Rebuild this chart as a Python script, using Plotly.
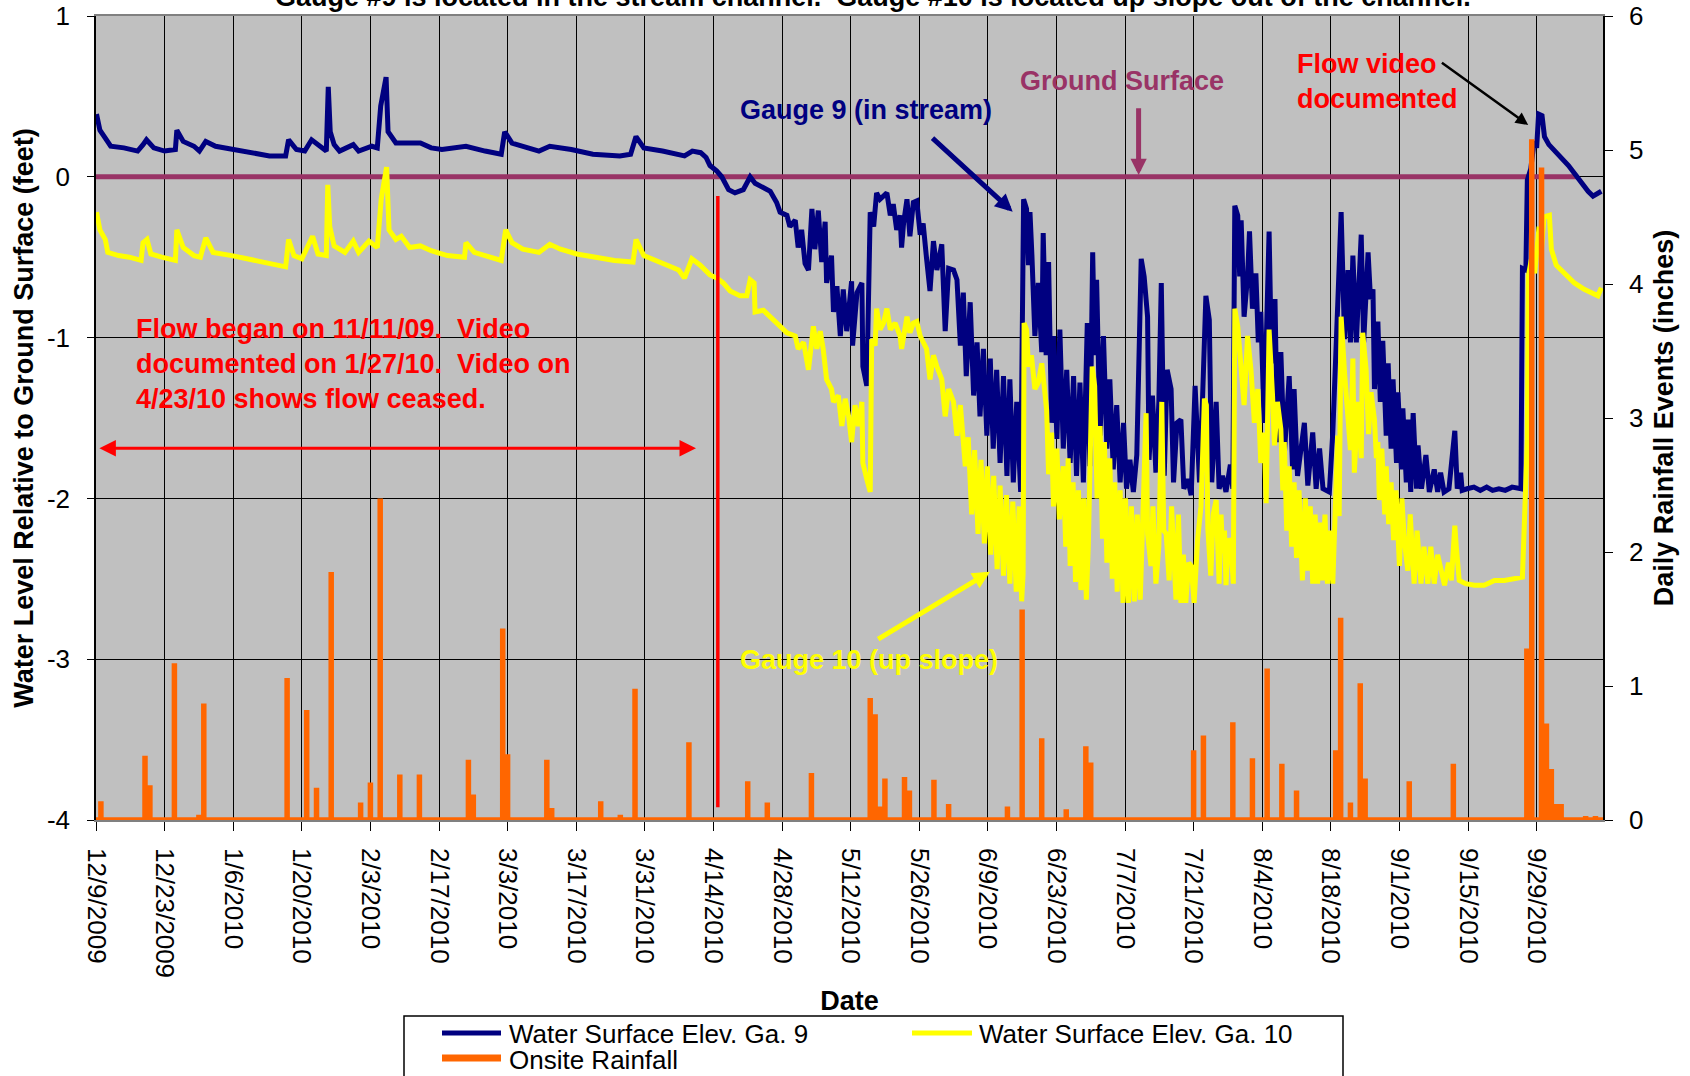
import pandas as pd
import plotly.graph_objects as go

# ---------------------------------------------------------------- data
START = pd.Timestamp("2009-12-09")
X_END = "2010-10-12 13:00"

# Gauge 9 (in stream): elapsed days since START, water level relative to ground (ft)
GA9_DAY = [
    0.1, 0.8, 1.9, 3.0, 5.7, 7.0, 8.5, 9.6, 10.3, 11.8,
    14.0, 16.2, 16.5, 17.8, 20.0, 21.1, 22.4, 24.4, 27.7, 32.1,
    35.4, 38.7, 39.3, 40.9, 42.6, 44.0, 45.9, 47.0, 47.4, 47.8,
    48.6, 49.7, 52.5, 53.6, 56.3, 57.4, 58.1, 59.2, 59.6, 61.2,
    66.2, 68.4, 70.6, 75.5, 79.4, 82.7, 83.4, 84.9, 90.4, 92.6,
    97.0, 101.4, 106.9, 109.1, 110.2, 111.8, 115.6, 120.1, 121.7, 123.4,
    124.5, 125.3, 126.7, 127.7, 129.1, 130.4, 132.1, 133.5, 134.5, 136.2,
    137.6, 138.9, 139.6, 141.0, 141.6, 142.7, 143.3, 144.0, 144.7, 145.4,
    146.1, 146.7, 147.4, 148.1, 148.8, 149.1, 150.1, 150.5, 151.2, 151.9,
    152.5, 153.2, 154.2, 154.4, 155.3, 156.3, 156.5, 157.3, 158.0, 158.7,
    159.3, 160.0, 161.4, 162.1, 162.7, 163.4, 164.1, 164.4, 164.8, 165.5,
    166.1, 166.8, 167.5, 168.2, 168.8, 169.5, 170.2, 170.9, 171.6, 172.6,
    173.3, 174.0, 175.0, 175.7, 176.4, 177.0, 177.6, 178.4, 179.1, 179.8,
    180.4, 181.1, 181.8, 182.5, 183.1, 183.8, 184.5, 185.2, 185.9, 186.5,
    187.2, 187.9, 188.7, 189.3, 189.9, 190.3, 190.6, 191.0, 191.6, 192.3,
    193.0, 193.3, 193.9, 194.4, 195.0, 195.4, 196.1, 196.7, 197.4, 198.1,
    198.8, 199.5, 200.1, 200.8, 201.5, 202.3, 202.8, 203.4, 203.8, 204.2,
    204.9, 205.6, 206.3, 206.9, 207.6, 208.3, 209.0, 209.7, 210.3, 211.0,
    211.7, 212.4, 212.7, 213.3, 213.9, 214.6, 214.9, 215.6, 216.3, 216.9,
    217.4, 218.0, 218.6, 219.4, 219.9, 220.6, 221.4, 222.0, 222.8, 223.5,
    224.3, 225.2, 225.8, 226.5, 227.2, 227.7, 228.6, 229.2, 229.9, 230.6,
    231.5, 232.0, 232.4, 233.0, 233.4, 233.7, 234.3, 235.0, 235.4, 236.0,
    236.7, 237.2, 237.7, 238.4, 239.4, 239.9, 240.6, 241.1, 241.8, 242.5,
    243.5, 244.2, 244.5, 245.2, 246.6, 247.3, 248.3, 249.0, 249.7, 250.4,
    251.7, 252.4, 253.4, 254.1, 254.8, 255.5, 256.0, 256.5, 257.2, 257.8,
    258.2, 258.7, 259.6, 260.1, 260.6, 260.9, 261.6, 262.1, 262.6, 263.3,
    263.7, 264.3, 264.7, 265.4, 265.7, 266.4, 266.7, 267.4, 267.8, 268.3,
    268.8, 269.5, 269.8, 270.5, 271.4, 272.1, 273.1, 273.8, 274.4, 275.1,
    276.1, 277.3, 277.8, 278.5, 278.8, 279.8, 281.2, 282.5, 283.8, 285.0,
    286.3, 287.6, 289.0, 290.8, 291.1, 291.8, 292.1, 292.8, 293.5, 294.0,
    294.4, 295.1, 295.6, 296.5, 297.5, 298.5, 299.5, 300.5, 301.5, 302.5,
    303.5, 304.5, 305.5, 306.2, 307.2,
]
GA9_FT = [
    0.39, 0.29, 0.24, 0.19, 0.18, 0.17, 0.16, 0.20, 0.23, 0.18,
    0.16, 0.17, 0.29, 0.22, 0.19, 0.16, 0.22, 0.19, 0.17, 0.15,
    0.13, 0.13, 0.23, 0.17, 0.16, 0.23, 0.18, 0.16, 0.56, 0.28,
    0.20, 0.16, 0.20, 0.16, 0.19, 0.18, 0.44, 0.62, 0.28, 0.21,
    0.21, 0.18, 0.17, 0.19, 0.16, 0.14, 0.28, 0.21, 0.16, 0.19,
    0.17, 0.14, 0.13, 0.14, 0.25, 0.18, 0.16, 0.13, 0.16, 0.15,
    0.12, 0.07, 0.035, 0.0, -0.08, -0.10, -0.08, 0.0, -0.04, -0.07,
    -0.09, -0.16, -0.22, -0.24, -0.31, -0.27, -0.44, -0.33, -0.54, -0.58,
    -0.20, -0.45, -0.21, -0.53, -0.28, -0.66, -0.49, -0.84, -0.68, -0.99,
    -0.70, -0.96, -0.65, -1.05, -0.72, -0.66, -1.18, -1.30, -0.22, -0.31,
    -0.10, -0.14, -0.10, -0.24, -0.17, -0.33, -0.24, -0.44, -0.29, -0.14,
    -0.37, -0.16, -0.15, -0.36, -0.29, -0.51, -0.71, -0.40, -0.58, -0.42,
    -0.96, -0.57, -0.58, -0.64, -1.05, -0.72, -1.24, -0.78, -1.36, -1.03,
    -1.49, -1.07, -1.61, -1.13, -1.69, -1.20, -1.78, -1.24, -1.86, -1.26,
    -1.90, -1.40, -1.96, -0.14, -0.20, -0.55, -0.22, -0.49, -0.99, -0.66,
    -1.09, -0.35, -1.11, -0.53, -1.53, -0.99, -1.63, -0.95, -1.69, -1.20,
    -1.78, -1.24, -1.86, -1.28, -1.90, -0.91, -1.80, -0.47, -1.11, -0.64,
    -1.61, -0.99, -1.69, -1.26, -1.82, -1.42, -1.90, -1.53, -1.94, -1.76,
    -1.96, -1.73, -1.24, -0.51, -0.62, -0.87, -1.76, -1.36, -1.84, -1.40,
    -0.66, -1.86, -1.20, -1.32, -1.90, -1.53, -1.51, -1.94, -1.88, -1.98,
    -1.30, -1.90, -1.40, -0.74, -0.89, -1.90, -1.40, -1.94, -1.86, -1.96,
    -1.79, -1.94, -0.18, -0.24, -0.62, -0.27, -0.87, -0.62, -0.34, -0.82,
    -0.60, -1.03, -0.84, -1.53, -0.34, -1.16, -0.76, -1.65, -1.09, -1.73,
    -1.24, -1.82, -1.32, -1.86, -1.53, -1.92, -1.59, -1.94, -1.69, -1.94,
    -1.96, -1.59, -0.80, -0.22, -1.01, -0.58, -1.03, -0.49, -1.03, -0.60,
    -0.36, -1.03, -0.47, -0.76, -0.70, -1.32, -0.90, -1.40, -1.02, -1.61,
    -1.16, -1.69, -1.26, -1.78, -1.34, -1.82, -1.44, -1.90, -1.51, -1.96,
    -1.47, -1.94, -1.67, -1.94, -1.73, -1.96, -1.82, -1.96, -1.84, -1.96,
    -1.94, -1.58, -1.94, -1.84, -1.95, -1.94, -1.93, -1.95, -1.93, -1.95,
    -1.94, -1.95, -1.93, -1.94, -0.57, -0.58, -0.02, 0.05, 0.22, 0.18,
    0.39, 0.38, 0.25, 0.20, 0.17, 0.14, 0.11, 0.07, 0.03, -0.01,
    -0.06, -0.09, -0.12, -0.11, -0.09,
]

# Gauge 10 (up slope): elapsed days since START, water level relative to ground (ft)
GA10_DAY = [
    0.1, 0.8, 1.9, 2.4, 4.6, 6.8, 9.2, 9.6, 10.4, 11.2,
    13.4, 16.2, 16.5, 17.8, 20.0, 21.3, 22.4, 23.9, 27.7, 32.1,
    35.4, 38.7, 39.3, 40.4, 42.0, 43.7, 44.2, 45.3, 47.0, 47.3,
    47.7, 48.6, 50.8, 52.5, 53.6, 55.7, 57.4, 58.2, 59.3, 59.8,
    61.2, 62.3, 64.0, 66.2, 68.4, 71.7, 75.2, 75.5, 77.2, 79.4,
    82.7, 83.6, 84.9, 87.1, 90.4, 92.6, 94.8, 98.1, 101.4, 105.8,
    109.6, 110.2, 111.8, 115.6, 118.9, 120.1, 121.6, 123.3, 125.3, 126.7,
    128.0, 129.4, 131.4, 132.8, 133.5, 134.3, 134.5, 136.2, 137.6, 139.6,
    141.0, 142.7, 143.3, 144.4, 145.4, 146.4, 147.1, 147.8, 148.4, 149.1,
    150.1, 150.5, 151.5, 152.2, 152.9, 153.6, 154.2, 154.9, 155.6, 156.3,
    156.5, 157.3, 158.0, 158.3, 159.0, 159.3, 160.0, 160.7, 161.4, 162.1,
    163.1, 164.1, 164.4, 165.5, 166.1, 166.8, 167.5, 168.2, 169.5, 170.2,
    170.9, 171.6, 172.6, 173.3, 174.0, 175.0, 175.7, 176.4, 177.4, 178.0,
    178.7, 179.3, 180.0, 180.6, 181.3, 181.9, 182.6, 183.2, 183.9, 184.5,
    185.2, 185.8, 186.5, 187.1, 187.8, 188.4, 188.9, 189.2, 189.4, 189.9,
    190.3, 190.9, 191.6, 192.3, 193.0, 193.5, 194.0, 194.4, 195.0, 195.4,
    196.1, 196.6, 197.4, 197.9, 198.4, 198.8, 199.4, 199.9, 200.5, 201.0,
    201.6, 202.1, 202.5, 203.3, 203.8, 204.3, 204.9, 205.4, 205.8, 206.3,
    206.9, 207.4, 207.9, 208.4, 209.0, 209.6, 210.1, 210.7, 211.3, 211.9,
    212.5, 213.1, 213.6, 214.3, 214.6, 215.3, 215.7, 216.3, 216.9, 217.5,
    217.9, 218.4, 219.0, 219.5, 220.0, 220.4, 220.9, 221.4, 221.9, 222.4,
    223.0, 223.5, 224.1, 224.8, 225.5, 226.2, 226.6, 226.9, 227.5, 228.0,
    228.6, 229.2, 229.6, 229.9, 230.3, 230.6, 231.1, 231.6, 232.1, 232.4,
    233.0, 233.7, 234.3, 235.0, 235.7, 236.4, 237.1, 237.7, 238.4, 238.8,
    239.4, 240.1, 240.5, 241.1, 241.8, 242.2, 242.5, 243.0, 243.5, 244.0,
    244.5, 245.0, 245.5, 246.2, 246.8, 247.3, 247.8, 248.3, 248.8, 249.3,
    249.8, 250.3, 250.8, 251.3, 251.8, 252.4, 252.7, 253.4, 253.7, 254.1,
    254.8, 255.5, 256.0, 256.5, 256.8, 257.5, 258.2, 258.5, 259.2, 259.7,
    260.2, 260.9, 261.3, 261.6, 261.9, 262.4, 263.0, 263.3, 263.8, 264.3,
    264.8, 265.3, 266.0, 266.5, 267.0, 267.7, 268.2, 269.0, 269.6, 270.4,
    271.0, 271.8, 272.4, 273.1, 273.8, 275.2, 276.0, 276.6, 277.3, 277.6,
    278.2, 279.5, 281.3, 283.3, 285.4, 287.4, 289.4, 291.1, 292.1, 292.3,
    293.0, 293.6, 294.5, 295.0, 295.5, 296.6, 297.0, 298.0, 299.0, 300.3,
    301.7, 303.7, 305.5, 306.5, 307.2,
]
GA10_FT = [
    -0.22, -0.33, -0.39, -0.47, -0.49, -0.50, -0.52, -0.41, -0.39, -0.48,
    -0.50, -0.52, -0.33, -0.44, -0.49, -0.50, -0.38, -0.47, -0.49, -0.52,
    -0.54, -0.56, -0.39, -0.49, -0.51, -0.39, -0.37, -0.48, -0.49, -0.05,
    -0.31, -0.43, -0.47, -0.40, -0.47, -0.40, -0.44, -0.14, 0.06, -0.33,
    -0.39, -0.37, -0.44, -0.43, -0.46, -0.49, -0.50, -0.41, -0.47, -0.49,
    -0.52, -0.33, -0.41, -0.45, -0.47, -0.42, -0.45, -0.48, -0.50, -0.52,
    -0.53, -0.39, -0.49, -0.54, -0.58, -0.63, -0.51, -0.55, -0.61, -0.63,
    -0.66, -0.71, -0.74, -0.74, -0.64, -0.66, -0.84, -0.83, -0.87, -0.93,
    -0.97, -0.99, -1.07, -1.03, -1.20, -0.93, -1.07, -0.96, -1.07, -1.26,
    -1.32, -1.40, -1.36, -1.55, -1.38, -1.49, -1.65, -1.42, -1.55, -1.40,
    -1.78, -1.88, -1.96, -1.01, -1.05, -0.82, -0.95, -0.91, -0.82, -0.95,
    -0.91, -0.99, -1.07, -0.87, -0.97, -0.91, -0.90, -0.99, -1.07, -1.26,
    -1.11, -1.18, -1.26, -1.49, -1.32, -1.40, -1.61, -1.42, -1.80, -1.62,
    -2.10, -1.70, -2.22, -1.76, -2.28, -1.80, -2.35, -1.86, -2.44, -1.92,
    -2.48, -1.98, -2.53, -2.02, -2.58, -2.05, -2.64, -2.47, -0.91, -0.95,
    -1.18, -1.11, -1.32, -1.28, -1.16, -1.30, -1.45, -1.85, -1.59, -2.05,
    -1.69, -2.13, -1.80, -2.30, -1.75, -2.42, -1.90, -2.52, -1.95, -2.57,
    -2.00, -2.63, -2.30, -1.18, -1.30, -2.00, -1.55, -2.25, -1.65, -2.40,
    -1.75, -2.50, -1.90, -2.58, -1.95, -2.65, -2.00, -2.65, -2.05, -2.64,
    -2.10, -2.63, -2.20, -1.47, -2.22, -2.42, -2.05, -2.53, -2.30, -1.40,
    -2.20, -2.22, -2.51, -2.05, -2.38, -2.63, -2.10, -2.65, -2.35, -2.65,
    -2.40, -2.42, -2.65, -2.26, -2.05, -1.38, -1.42, -2.19, -2.48, -2.10,
    -2.01, -2.53, -2.10, -2.34, -2.20, -2.54, -2.25, -2.28, -2.53, -0.82,
    -0.93, -1.22, -1.42, -0.99, -1.20, -1.53, -1.32, -1.78, -1.59, -2.03,
    -0.95, -1.36, -1.67, -1.40, -1.57, -1.95, -1.65, -2.20, -1.80, -2.30,
    -1.90, -2.37, -1.95, -2.51, -2.00, -2.45, -2.05, -2.53, -2.10, -2.53,
    -2.15, -2.51, -2.10, -2.53, -2.20, -2.53, -2.22, -1.61, -2.11, -0.87,
    -1.22, -1.57, -1.70, -1.13, -1.84, -1.40, -1.75, -0.97, -1.20, -1.60,
    -1.34, -1.51, -1.75, -1.65, -2.01, -1.69, -2.10, -1.80, -2.16, -1.90,
    -2.26, -1.95, -2.42, -2.00, -2.26, -2.45, -2.10, -2.53, -2.20, -2.53,
    -2.30, -2.53, -2.30, -2.53, -2.35, -2.54, -2.40, -2.51, -2.17, -2.30,
    -2.51, -2.53, -2.54, -2.54, -2.51, -2.51, -2.50, -2.49, -1.64, -0.62,
    -0.50, -0.60, -0.31, -0.45, -0.25, -0.24, -0.45, -0.55, -0.58, -0.62,
    -0.66, -0.70, -0.73, -0.74, -0.69,
]

# Onsite rainfall, daily totals (inches)
RAIN_DATE = [
    "2009-12-10", "2009-12-19", "2009-12-20", "2009-12-25", "2009-12-30",
    "2009-12-31", "2010-01-17", "2010-01-21", "2010-01-23", "2010-01-26",
    "2010-02-01", "2010-02-03", "2010-02-05", "2010-02-09", "2010-02-13",
    "2010-02-23", "2010-02-24", "2010-03-02", "2010-03-03", "2010-03-11",
    "2010-03-12", "2010-03-22", "2010-03-26", "2010-03-29", "2010-04-09",
    "2010-04-21", "2010-04-25", "2010-05-04", "2010-05-16", "2010-05-17",
    "2010-05-18", "2010-05-19", "2010-05-23", "2010-05-24", "2010-05-29",
    "2010-06-01", "2010-06-13", "2010-06-16", "2010-06-20", "2010-06-25",
    "2010-06-29", "2010-06-30", "2010-07-21", "2010-07-23", "2010-07-29",
    "2010-08-02", "2010-08-05", "2010-08-08", "2010-08-11", "2010-08-19",
    "2010-08-20", "2010-08-22", "2010-08-24", "2010-08-25", "2010-09-03",
    "2010-09-12", "2010-09-27", "2010-09-28", "2010-09-30", "2010-10-01",
    "2010-10-02", "2010-10-03", "2010-10-04", "2010-10-09", "2010-10-11",
]
RAIN_IN = [
    0.14, 0.48, 0.26, 1.17, 0.04,
    0.87, 1.06, 0.82, 0.24, 1.85,
    0.13, 0.28, 2.40, 0.34, 0.34,
    0.45, 0.19, 1.43, 0.49, 0.45,
    0.09, 0.14, 0.04, 0.98, 0.58,
    0.29, 0.13, 0.35, 0.91, 0.79,
    0.10, 0.31, 0.32, 0.22, 0.30,
    0.12, 0.10, 1.57, 0.61, 0.08,
    0.55, 0.43, 0.52, 0.63, 0.73,
    0.46, 1.13, 0.42, 0.22, 0.52,
    1.51, 0.13, 1.02, 0.31, 0.29,
    0.42, 1.28, 5.08, 4.87, 0.72,
    0.38, 0.12, 0.12, 0.03, 0.03,
]

GROUND_FT = 0.0                      # ground surface reference
GROUND_END = "2010-10-07 05:00"      # end of the drawn ground-surface line
CEASED_AT = "2010-04-14 21:30"       # vertical marker
CEASED_SPAN = (-0.12, -3.92)

assert len(GA9_DAY) == len(GA9_FT)
assert len(GA10_DAY) == len(GA10_FT)
assert len(RAIN_DATE) == len(RAIN_IN)

NAVY, YELLOW, ORANGE = "#000080", "#FFFF00", "#FF6600"
MAROON, RED = "#993366", "#FF0000"
FONT = "Liberation Sans, Arial, sans-serif"

# ---------------------------------------------------------------- geometry
W, H = 1690, 1076
ML, MR, MT, MB = 96, 87, 16, 256
PW, PH = W - ML - MR, H - MT - MB


def px(x):
    """page x (px) -> paper fraction"""
    return (x - ML) / PW


def py(y):
    """page y (px, from top) -> paper fraction"""
    return (H - MB - y) / PH


def elapsed(days):
    return [START + pd.Timedelta(days=d) for d in days]


# rainfall drawn as spikes rising from a zero baseline
rain_x, rain_y = [START], [0.0]
for d, r in zip(RAIN_DATE, RAIN_IN):
    t = pd.Timestamp(d)
    rain_x += [t, t, t]
    rain_y += [0.0, r, 0.0]
rain_x.append(pd.Timestamp(X_END))
rain_y.append(0.0)

fig = go.Figure()
fig.add_trace(go.Scatter(x=elapsed(GA9_DAY), y=GA9_FT, mode="lines",
                         name="Water Surface Elev. Ga. 9",
                         line=dict(color=NAVY, width=5)))
fig.add_trace(go.Scatter(x=elapsed(GA10_DAY), y=GA10_FT, mode="lines",
                         name="Water Surface Elev. Ga. 10",
                         line=dict(color=YELLOW, width=5)))
fig.add_trace(go.Scatter(x=rain_x, y=rain_y, mode="lines", yaxis="y2",
                         name="Onsite Rainfall",
                         line=dict(color=ORANGE, width=5.5)))

tickfont = dict(family=FONT, size=26, color="black")
titlefont = dict(family=FONT, size=27, color="black")

fig.update_layout(
    template="none",
    width=W, height=H,
    margin=dict(l=ML, r=MR, t=MT, b=MB),
    paper_bgcolor="white",
    plot_bgcolor="#C0C0C0",
    showlegend=False,
    xaxis=dict(
        type="date", range=[START, X_END],
        tick0="2009-12-09", dtick=14 * 86400000,
        tickformat="%-m/%-d/%Y", tickangle=90,
        ticks="outside", ticklen=9, tickcolor="black", tickwidth=1,
        ticklabelstandoff=12,
        showgrid=True, gridcolor="black", gridwidth=1,
        showline=True, linecolor="#808080", linewidth=1.5, mirror=True,
        zeroline=False, tickfont=tickfont, automargin=False,
        title=dict(text="<b>Date</b>", font=titlefont, standoff=14),
    ),
    yaxis=dict(
        range=[-4, 1],
        tickvals=[-4, -3, -2, -1, 0, 1],
        ticktext=["-4", "-3", "-2", "-1", "0", "1"],
        ticks="outside", ticklen=7, tickcolor="black", tickwidth=1,
        ticklabelstandoff=12,
        showgrid=True, gridcolor="black", gridwidth=1,
        zeroline=False, showline=True, linecolor="black", linewidth=1.5,
        tickfont=tickfont, automargin=False,
        title=dict(text="<b>Water Level Relative to Ground Surface (feet)</b>",
                   font=titlefont, standoff=5),
    ),
    yaxis2=dict(
        overlaying="y", side="right", range=[0, 6],
        tickvals=[0, 1, 2, 3, 4, 5, 6],
        ticks="outside", ticklen=8, tickcolor="black", tickwidth=1,
        ticklabelstandoff=11,
        showgrid=False, zeroline=False,
        showline=True, linecolor="black", linewidth=1.5,
        tickfont=tickfont, automargin=False,
        title=dict(text="<b>Daily Rainfall Events (inches)</b>",
                   font=titlefont, standoff=12),
    ),
)

shapes = [
    # ground surface line
    dict(type="line", xref="x", yref="y", layer="between",
         x0=START, x1=GROUND_END, y0=GROUND_FT, y1=GROUND_FT,
         line=dict(color=MAROON, width=5)),
    # marker line
    dict(type="line", xref="x", yref="y", layer="above",
         x0=CEASED_AT, x1=CEASED_AT, y0=CEASED_SPAN[0], y1=CEASED_SPAN[1],
         line=dict(color=RED, width=3.5)),
    # legend frame
    dict(type="rect", xref="paper", yref="paper",
         x0=px(404), x1=px(1343), y0=py(1090), y1=py(1016),
         line=dict(color="black", width=1.5), fillcolor="white", layer="above"),
    dict(type="line", xref="paper", yref="paper",
         x0=px(442), x1=px(501), y0=py(1033), y1=py(1033),
         line=dict(color=NAVY, width=5)),
    dict(type="line", xref="paper", yref="paper",
         x0=px(912), x1=px(972), y0=py(1033), y1=py(1033),
         line=dict(color=YELLOW, width=5)),
    dict(type="line", xref="paper", yref="paper",
         x0=px(442), x1=px(501), y0=py(1058), y1=py(1058),
         line=dict(color=ORANGE, width=7)),
]
fig.update_layout(shapes=shapes)


def label(text, x, y, color, size=27, bold=True, xanchor="left",
          yanchor="middle", align="left", **kw):
    t = f"<b>{text}</b>" if bold else text
    return dict(text=t, xref="paper", yref="paper", x=px(x), y=py(y),
                xanchor=xanchor, yanchor=yanchor, align=align,
                showarrow=False,
                font=dict(family=FONT, size=size, color=color), **kw)


def arrow(tip, tail, color, width, head=2, size=0.7, side="end"):
    return dict(text="", xref="paper", yref="paper",
                x=px(tip[0]), y=py(tip[1]),
                ax=tail[0] - tip[0], ay=tail[1] - tip[1],
                showarrow=True, arrowhead=head, startarrowhead=head,
                arrowsize=size, startarrowsize=size,
                arrowwidth=width, arrowcolor=color, arrowside=side,
                standoff=0, startstandoff=0)


annotations = [
    dict(text="<b>Gauge #9 is located in the stream channel.\u00a0 "
              "Gauge #10 is located up slope out of the channel.</b>",
         xref="paper", yref="paper", x=px(873), y=1, xanchor="center",
         yanchor="bottom", yshift=2, showarrow=False,
         font=dict(family=FONT, size=27, color="black")),
    label("Ground Surface", 1121.5, 81, MAROON, xanchor="center"),
    label("Gauge 9 (in stream)", 738, 110, NAVY),
    label("Flow video<br>documented", 1295, 81, RED),
    label("Flow began on 11/11/09.\u00a0 Video<br>"
          "documented on 1/27/10.\u00a0 Video on<br>"
          "4/23/10 shows flow ceased.", 134, 364, RED),
    label("Gauge 10 (up slope)", 738, 660, YELLOW),
    arrow((1012.7, 211.7), (931, 136.7), NAVY, 5, size=0.7),
    arrow((1138.6, 175), (1138.6, 106.7), MAROON, 5, size=0.65),
    arrow((1528.2, 125), (1440.4, 61.7), "black", 2.5, size=1.0),
    arrow((990, 571.7), (876.7, 640), YELLOW, 5, size=0.7),
    arrow((696, 448.3), (97.9, 448.3), RED, 3, size=1.1, side="end+start"),
    label("Water Surface Elev. Ga. 9", 507, 1034, "black", size=26, bold=False),
    label("Water Surface Elev. Ga. 10", 977, 1034, "black", size=26, bold=False),
    label("Onsite Rainfall", 507, 1060, "black", size=26, bold=False),
]
fig.update_layout(annotations=annotations)

fig.write_html("out.html")
